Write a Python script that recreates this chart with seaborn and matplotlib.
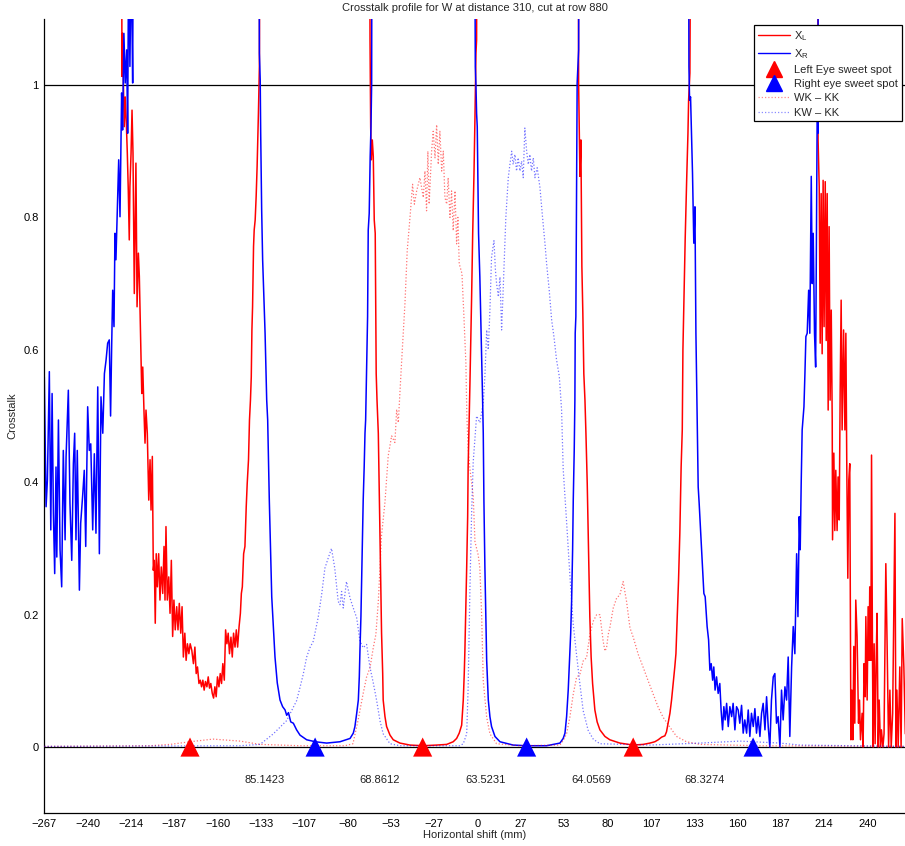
import numpy as np
import matplotlib
matplotlib.use("Agg")
import matplotlib.pyplot as plt
from matplotlib.lines import Line2D
import seaborn as sns

# ---------------- data (x in mm, y = crosstalk) ----------------
XL_POINTS = [  # red solid, X_L
    (-266.7, 1.6), (-219.3, 1.6), (-218.9, 1.013), (-218.5, 1.078), (-218.1, 1.013), (-217.5, 0.937),
    (-216.9, 0.982), (-216.2, 0.942), (-215.6, 0.897), (-215.0, 0.841), (-214.4, 0.766), (-214.0, 0.846),
    (-213.3, 0.897), (-212.7, 0.962), (-212.1, 0.897), (-211.3, 0.685), (-210.7, 0.806), (-210.3, 0.882),
    (-209.6, 0.665), (-208.8, 0.746), (-208.2, 0.711), (-207.3, 0.605), (-206.7, 0.534), (-206.1, 0.574),
    (-205.3, 0.504), (-204.7, 0.459), (-204.1, 0.509), (-203.3, 0.474), (-202.4, 0.373), (-201.6, 0.434),
    (-201.0, 0.358), (-200.2, 0.439), (-199.6, 0.267), (-199.0, 0.282), (-198.4, 0.187), (-197.8, 0.292),
    (-197.1, 0.242), (-196.3, 0.292), (-195.5, 0.222), (-194.7, 0.272), (-193.8, 0.232), (-193.0, 0.303),
    (-192.4, 0.222), (-191.8, 0.333), (-191.0, 0.222), (-190.1, 0.257), (-189.3, 0.202), (-188.5, 0.282),
    (-187.7, 0.167), (-186.9, 0.222), (-186.1, 0.177), (-185.2, 0.212), (-184.4, 0.177), (-183.6, 0.217),
    (-182.7, 0.172), (-181.9, 0.212), (-181.1, 0.136), (-180.2, 0.172), (-179.4, 0.131), (-178.6, 0.156),
    (-177.7, 0.141), (-176.9, 0.156), (-175.9, 0.146), (-174.9, 0.126), (-174.0, 0.151), (-173.2, 0.111),
    (-172.4, 0.121), (-171.5, 0.096), (-170.7, 0.101), (-169.9, 0.091), (-169.1, 0.101), (-168.3, 0.086),
    (-167.5, 0.099), (-166.6, 0.091), (-165.8, 0.106), (-165.0, 0.089), (-164.2, 0.096), (-163.3, 0.081),
    (-162.5, 0.074), (-161.7, 0.091), (-160.9, 0.076), (-160.1, 0.106), (-159.2, 0.091), (-158.4, 0.111),
    (-157.6, 0.096), (-156.8, 0.126), (-155.9, 0.101), (-155.1, 0.177), (-154.3, 0.156), (-153.5, 0.172),
    (-152.7, 0.141), (-151.8, 0.166), (-151.0, 0.136), (-150.2, 0.172), (-149.3, 0.151), (-148.5, 0.177),
    (-147.7, 0.151), (-146.8, 0.182), (-146.0, 0.202), (-145.4, 0.232), (-144.8, 0.242), (-144.0, 0.292),
    (-143.2, 0.303), (-142.4, 0.363), (-141.8, 0.398), (-141.0, 0.434), (-140.4, 0.494), (-139.8, 0.524),
    (-139.3, 0.559), (-138.9, 0.630), (-138.5, 0.665), (-137.9, 0.756), (-137.5, 0.781), (-136.9, 0.796),
    (-136.3, 0.831), (-135.7, 0.877), (-134.9, 0.957), (-134.3, 1.028), (-133.7, 1.6),
    (-66.7, 1.6), (-66.2, 1.068), (-65.8, 0.937), (-65.4, 0.887), (-64.8, 0.917), (-64.2, 0.892),
    (-63.6, 0.796), (-63.0, 0.776), (-62.4, 0.564), (-61.9, 0.524), (-61.1, 0.474), (-60.1, 0.323),
    (-59.5, 0.242), (-59.1, 0.172), (-58.4, 0.111), (-58.1, 0.071), (-57.0, 0.046), (-56.0, 0.031),
    (-53.9, 0.018), (-51.9, 0.011), (-47.8, 0.006), (-41.6, 0.003), (-33.4, 0.002), (-25.2, 0.003),
    (-19.0, 0.004), (-15.0, 0.008), (-12.9, 0.013), (-11.3, 0.021), (-9.8, 0.033), (-8.8, 0.071),
    (-8.2, 0.111), (-7.8, 0.146), (-7.2, 0.212), (-6.7, 0.272), (-6.1, 0.348), (-5.8, 0.423),
    (-5.1, 0.499), (-4.7, 0.549), (-4.1, 0.625), (-3.7, 0.675), (-3.0, 0.776), (-2.2, 0.867),
    (-1.6, 0.952), (-1.0, 1.048), (-0.6, 1.068), (0.0, 1.6),
    (61.8, 1.6), (62.2, 1.003), (62.6, 0.927), (63.0, 0.862), (63.6, 0.917), (64.2, 0.726),
    (64.8, 0.655), (65.4, 0.564), (66.1, 0.524), (66.7, 0.474), (67.5, 0.398), (68.1, 0.323),
    (68.7, 0.247), (69.1, 0.197), (69.9, 0.136), (70.8, 0.096), (72.2, 0.056), (73.6, 0.038),
    (75.3, 0.026), (78.4, 0.016), (81.4, 0.011), (87.6, 0.006), (95.8, 0.003), (101.9, 0.004),
    (106.1, 0.006), (109.1, 0.008), (111.2, 0.011), (113.3, 0.015), (115.3, 0.017), (116.3, 0.023),
    (117.3, 0.036), (118.4, 0.051), (119.4, 0.071), (120.4, 0.096), (121.4, 0.121), (122.1, 0.141),
    (122.9, 0.197), (123.7, 0.252), (124.5, 0.323), (125.3, 0.423), (126.0, 0.479), (126.4, 0.600),
    (127.0, 0.672), (127.8, 0.768), (128.7, 0.856), (129.5, 0.927), (129.9, 0.977), (130.7, 1.018),
    (131.7, 1.6),
    (209.3, 1.6), (209.6, 0.917), (210.3, 0.846), (210.9, 0.610), (211.5, 0.836), (212.1, 0.594),
    (212.7, 0.856), (213.3, 0.635), (214.0, 0.854), (214.6, 0.614), (215.2, 0.836), (215.8, 0.509),
    (216.4, 0.786), (217.0, 0.524), (217.7, 0.660), (218.3, 0.494), (218.5, 0.313), (219.3, 0.444),
    (219.9, 0.327), (220.5, 0.418), (221.3, 0.327), (221.9, 0.408), (222.6, 0.343), (223.2, 0.539),
    (223.8, 0.675), (224.4, 0.479), (225.3, 0.630), (226.1, 0.479), (226.7, 0.625), (227.3, 0.413),
    (227.9, 0.255), (228.5, 0.403), (229.1, 0.428), (229.8, 0.011), (230.4, 0.086), (231.0, 0.011),
    (231.6, 0.152), (232.2, 0.036), (232.8, 0.222), (233.6, 0.167), (234.5, 0.036), (235.1, 0.071),
    (235.7, 0.011), (236.7, 0.051), (237.3, 0.0), (237.9, 0.126), (238.6, 0.076), (239.0, 0.197),
    (239.8, 0.071), (240.4, 0.212), (241.0, 0.131), (241.4, 0.242), (242.1, 0.131), (242.5, 0.441),
    (243.1, 0.131), (243.5, 0.0), (244.1, 0.156), (244.7, 0.005), (245.3, 0.121), (245.9, 0.202),
    (246.6, 0.0), (247.2, 0.071), (248.0, 0.0), (248.6, 0.026), (249.5, 0.0), (250.2, 0.020),
    (251.3, 0.277), (252.1, 0.152), (253.0, 0.0), (253.8, 0.086), (254.6, 0.0), (255.5, 0.051),
    (256.9, 0.353), (257.5, 0.0), (258.1, 0.086), (258.9, 0.0), (259.9, 0.121), (260.7, 0.0),
    (261.4, 0.194), (262.4, 0.121), (263.3, 0.02),
]

XR_POINTS = [  # blue solid, X_R
    (-266.7, 0.559), (-265.6, 0.363), (-264.8, 0.403), (-263.6, 0.567), (-262.7, 0.328), (-261.9, 0.534),
    (-261.1, 0.353), (-260.3, 0.262), (-259.5, 0.423), (-259.0, 0.287), (-258.0, 0.494), (-257.0, 0.298),
    (-256.0, 0.242), (-255.0, 0.448), (-253.9, 0.313), (-253.3, 0.438), (-251.9, 0.539), (-250.9, 0.368),
    (-249.8, 0.282), (-248.8, 0.428), (-248.0, 0.474), (-247.2, 0.313), (-246.4, 0.448), (-245.1, 0.237),
    (-244.3, 0.338), (-243.0, 0.383), (-242.1, 0.418), (-241.2, 0.303), (-240.0, 0.514), (-239.0, 0.448),
    (-238.1, 0.458), (-236.9, 0.328), (-235.9, 0.443), (-234.9, 0.323), (-233.8, 0.544), (-232.8, 0.292),
    (-231.8, 0.529), (-230.7, 0.474), (-229.7, 0.564), (-228.7, 0.584), (-227.7, 0.610), (-226.7, 0.615),
    (-225.9, 0.50), (-225.2, 0.610), (-224.6, 0.690), (-223.8, 0.635), (-223.2, 0.776), (-222.6, 0.736),
    (-221.8, 0.806), (-220.9, 0.887), (-220.1, 0.801), (-219.1, 0.988), (-218.5, 0.932), (-217.7, 1.078),
    (-216.9, 1.003), (-216.0, 1.053), (-215.4, 0.927), (-214.8, 1.2), (-214.0, 1.028), (-213.2, 1.2),
    (-212.3, 1.003), (-211.5, 1.6),
    (-134.9, 1.6), (-134.3, 1.048), (-133.8, 1.008), (-133.5, 0.927), (-132.9, 0.811), (-132.3, 0.736),
    (-130.8, 0.625), (-129.8, 0.524), (-129.2, 0.494), (-128.2, 0.373), (-126.7, 0.227), (-125.7, 0.182),
    (-124.7, 0.136), (-123.3, 0.097), (-121.6, 0.071), (-120.0, 0.061), (-118.5, 0.056), (-117.5, 0.048),
    (-116.4, 0.052), (-115.0, 0.038), (-113.4, 0.036), (-111.4, 0.026), (-109.3, 0.018), (-105.2, 0.011),
    (-99.9, 0.008), (-92.9, 0.006), (-84.7, 0.008), (-78.5, 0.013), (-76.5, 0.021), (-75.5, 0.031),
    (-74.4, 0.051), (-73.4, 0.071), (-72.8, 0.106), (-72.4, 0.146), (-71.8, 0.197), (-71.2, 0.272),
    (-70.4, 0.373), (-69.8, 0.423), (-69.3, 0.474), (-68.9, 0.494), (-68.3, 0.574), (-67.7, 0.650),
    (-67.3, 0.781), (-66.7, 0.806), (-66.1, 0.892), (-65.6, 0.937), (-65.2, 1.003), (-64.8, 1.6),
    (-2.2, 1.6), (-1.4, 1.028), (-1.0, 1.0), (-0.6, 0.957), (-0.2, 0.937), (0.6, 0.776),
    (1.4, 0.710), (2.2, 0.625), (3.1, 0.524), (3.5, 0.474), (3.9, 0.373), (4.5, 0.272),
    (5.1, 0.197), (5.6, 0.131), (6.6, 0.071), (7.6, 0.046), (8.6, 0.031), (10.7, 0.016),
    (13.8, 0.008), (21.9, 0.003), (30.2, 0.002), (42.5, 0.002), (50.7, 0.006), (52.7, 0.013),
    (53.8, 0.021), (54.8, 0.046), (55.8, 0.086), (56.4, 0.121), (57.3, 0.171), (57.9, 0.222),
    (58.5, 0.298), (58.9, 0.373), (59.5, 0.449), (59.9, 0.524), (60.1, 0.625), (60.5, 0.650),
    (61.0, 0.867), (61.3, 1.003), (62.2, 1.053), (62.6, 1.6),
    (129.6, 1.6), (130.1, 1.028), (130.5, 0.977), (131.1, 0.982), (131.7, 0.922), (132.3, 0.867),
    (133.1, 0.761), (133.8, 0.816), (134.4, 0.625), (135.2, 0.494), (135.8, 0.393), (136.4, 0.368),
    (137.9, 0.298), (139.3, 0.232), (140.1, 0.227), (141.3, 0.182), (142.2, 0.162), (143.0, 0.116),
    (143.8, 0.126), (144.7, 0.101), (145.4, 0.121), (146.2, 0.086), (147.1, 0.106), (148.1, 0.081),
    (149.1, 0.096), (149.9, 0.056), (150.8, 0.026), (151.6, 0.061), (152.4, 0.041), (153.3, 0.066),
    (154.3, 0.031), (155.3, 0.061), (156.4, 0.046), (157.3, 0.066), (158.4, 0.026), (159.4, 0.061),
    (160.4, 0.056), (161.4, 0.036), (162.5, 0.063), (163.5, 0.021), (164.5, 0.041), (165.6, 0.021),
    (166.6, 0.056), (167.6, 0.016), (168.6, 0.051), (169.7, 0.031), (170.7, 0.058), (171.7, 0.021),
    (172.7, 0.046), (173.8, 0.016), (174.8, 0.051), (175.8, 0.066), (176.9, 0.026), (177.9, 0.076),
    (178.9, 0.031), (179.9, 0.0), (180.9, 0.071), (182.0, 0.106), (183.0, 0.111), (184.0, 0.036),
    (185.0, 0.046), (186.1, 0.0), (187.1, 0.086), (188.1, 0.041), (189.2, 0.091), (190.2, 0.071),
    (191.2, 0.136), (192.2, 0.016), (193.3, 0.121), (194.3, 0.182), (195.3, 0.141), (196.4, 0.292),
    (197.2, 0.197), (198.0, 0.348), (198.6, 0.298), (199.2, 0.398), (199.8, 0.479), (200.9, 0.514),
    (201.5, 0.564), (202.1, 0.620), (202.9, 0.625), (203.8, 0.690), (204.5, 0.625), (205.4, 0.862),
    (206.0, 0.700), (206.6, 0.776), (207.4, 0.625), (208.1, 0.574), (208.7, 0.826), (209.1, 0.977),
    (209.5, 0.927), (209.9, 1.6), (263.3, 1.6),
]

WK_POINTS = [  # red dotted, WK - KK
    (-266.7, 0.001), (-201.6, 0.002), (-189.3, 0.004), (-177.0, 0.008), (-162.9, 0.012), (-146.2, 0.009),
    (-133.9, 0.004), (-109.3, 0.002), (-81.6, 0.002), (-76.7, 0.005), (-73.6, 0.04), (-70.5, 0.08),
    (-68.3, 0.106), (-66.2, 0.12), (-64.2, 0.15), (-62.6, 0.17), (-61.1, 0.22), (-59.1, 0.32),
    (-57.0, 0.37), (-55.0, 0.44), (-52.9, 0.47), (-50.9, 0.46), (-49.8, 0.51), (-48.8, 0.49),
    (-46.8, 0.58), (-44.7, 0.67), (-43.3, 0.75), (-41.6, 0.80), (-40.0, 0.85), (-38.9, 0.82),
    (-37.5, 0.84), (-35.5, 0.86), (-33.4, 0.83), (-32.4, 0.87), (-31.4, 0.81), (-30.6, 0.90),
    (-29.8, 0.82), (-28.3, 0.90), (-27.3, 0.93), (-26.2, 0.89), (-25.2, 0.94), (-24.2, 0.88),
    (-23.2, 0.93), (-22.1, 0.87), (-21.1, 0.90), (-20.1, 0.83), (-19.0, 0.82), (-18.1, 0.86),
    (-17.0, 0.80), (-16.0, 0.84), (-15.0, 0.78), (-13.9, 0.84), (-12.9, 0.76), (-12.1, 0.80),
    (-11.3, 0.73), (-9.6, 0.715), (-8.4, 0.65), (-7.2, 0.58), (-6.6, 0.50), (-5.8, 0.45),
    (-4.7, 0.42), (-3.7, 0.40), (-2.7, 0.38), (-1.6, 0.31), (0.4, 0.29), (1.4, 0.27),
    (2.5, 0.20), (3.5, 0.10), (5.6, 0.045), (7.6, 0.02), (11.7, 0.005), (26.1, 0.002),
    (50.7, 0.003), (52.7, 0.01), (54.8, 0.02), (56.8, 0.045), (58.9, 0.08), (60.9, 0.105),
    (63.0, 0.11), (65.0, 0.13), (67.1, 0.135), (69.1, 0.17), (71.2, 0.19), (73.3, 0.20),
    (75.3, 0.20), (77.3, 0.16), (78.4, 0.145), (79.4, 0.15), (80.4, 0.17), (81.4, 0.18),
    (83.5, 0.21), (85.6, 0.225), (87.6, 0.23), (89.6, 0.25), (91.7, 0.22), (93.8, 0.18),
    (95.8, 0.166), (98.9, 0.14), (102.0, 0.12), (105.0, 0.10), (108.1, 0.08), (111.2, 0.06),
    (114.2, 0.045), (118.4, 0.03), (122.5, 0.016), (128.6, 0.008), (136.8, 0.004), (173.8, 0.002),
    (263.0, 0.001),
]

KW_POINTS = [  # blue dotted, KW - KK
    (-266.7, 0.001), (-146.2, 0.002), (-133.9, 0.004), (-125.7, 0.02), (-117.5, 0.04), (-111.4, 0.07),
    (-109.3, 0.09), (-107.3, 0.11), (-105.2, 0.136), (-103.2, 0.15), (-101.1, 0.16), (-98.1, 0.196),
    (-96.0, 0.23), (-94.0, 0.27), (-92.0, 0.285), (-89.9, 0.30), (-87.9, 0.27), (-85.8, 0.22),
    (-84.7, 0.215), (-83.7, 0.235), (-82.7, 0.21), (-80.7, 0.25), (-79.8, 0.24), (-78.5, 0.225),
    (-76.5, 0.21), (-74.4, 0.195), (-72.4, 0.16), (-70.4, 0.15), (-68.3, 0.155), (-66.2, 0.12),
    (-64.2, 0.097), (-62.1, 0.07), (-60.1, 0.04), (-58.1, 0.02), (-53.9, 0.005), (-47.8, 0.002),
    (-10.9, 0.002), (-8.8, 0.005), (-6.7, 0.02), (-5.8, 0.09), (-4.7, 0.24), (-3.7, 0.35),
    (-2.7, 0.43), (-0.6, 0.50), (1.4, 0.49), (3.5, 0.52), (4.5, 0.56), (5.6, 0.63),
    (6.6, 0.60), (7.6, 0.66), (8.6, 0.74), (10.1, 0.765), (11.0, 0.72), (11.7, 0.70),
    (12.8, 0.68), (13.8, 0.71), (14.8, 0.63), (15.6, 0.68), (16.2, 0.72), (17.4, 0.80),
    (18.9, 0.86), (19.9, 0.88), (21.0, 0.90), (21.9, 0.88), (23.0, 0.895), (24.0, 0.87),
    (25.0, 0.89), (26.1, 0.87), (27.1, 0.885), (28.1, 0.86), (29.1, 0.935), (30.2, 0.90),
    (31.2, 0.88), (32.2, 0.895), (33.2, 0.87), (34.3, 0.89), (35.3, 0.86), (36.7, 0.875),
    (38.4, 0.845), (40.0, 0.80), (41.5, 0.76), (42.5, 0.73), (44.1, 0.69), (45.6, 0.645),
    (47.0, 0.62), (48.6, 0.585), (50.3, 0.56), (51.7, 0.51), (52.7, 0.42), (54.8, 0.34),
    (56.8, 0.26), (58.9, 0.185), (60.9, 0.14), (63.0, 0.095), (65.0, 0.055), (68.1, 0.025),
    (71.2, 0.012), (75.3, 0.005), (106.1, 0.003), (136.8, 0.006), (161.4, 0.009), (186.1, 0.006),
    (198.4, 0.003), (263.0, 0.001),
]

left_eye_spots = [-177.0, -33.8, 95.8]
right_eye_spots = [-100.0, 30.2, 169.6]
separation_labels = ["85.1423", "68.8612", "63.5231", "64.0569", "68.3274"]
separation_label_x = [-131.3, -60.1, 5.0, 70.2, 139.9]
x_tick_labels = [-267, -240, -214, -187, -160, -133, -107, -80, -53, -27,
                 0, 27, 53, 80, 107, 133, 160, 187, 214, 240]
y_tick_values = [0, 0.2, 0.4, 0.6, 0.8, 1]
y_tick_labels = ["0", "0.2", "0.4", "0.6", "0.8", "1"]

# ---------------- figure ----------------
sns.set_style("white")
plt.rcParams["font.family"] = ["Liberation Sans", "DejaVu Sans"]
plt.rcParams["mathtext.fontset"] = "custom"
plt.rcParams["mathtext.rm"] = "Liberation Sans"
plt.rcParams["axes.unicode_minus"] = True

fig = plt.figure(figsize=(9.05, 8.46), dpi=100)
ax = fig.add_axes([0.049, 0.0387, 0.951, 0.9391])

ax.axhline(1, color="k", lw=0.9, zorder=1)
ax.axhline(0, color="k", lw=0.9, zorder=1)

def unzip(points):
    xs, ys = zip(*points)
    return np.array(xs), np.array(ys)

xl_x, xl_y = unzip(XL_POINTS)
xr_x, xr_y = unzip(XR_POINTS)
wk_x, wk_y = unzip(WK_POINTS)
kw_x, kw_y = unzip(KW_POINTS)

DOT = (0, (1, 1.6))

sns.lineplot(x=xl_x, y=xl_y, sort=False, estimator=None, color="#ff0000", linewidth=1.1, ax=ax, zorder=2)
sns.lineplot(x=xr_x, y=xr_y, sort=False, estimator=None, color="#0000ff", linewidth=1.1, ax=ax, zorder=2)
sns.scatterplot(x=left_eye_spots, y=[0] * len(left_eye_spots), marker="^", s=190, color="#ff0000",
                edgecolor="none", ax=ax, zorder=4)
sns.scatterplot(x=right_eye_spots, y=[0] * len(right_eye_spots), marker="^", s=190, color="#0000ff",
                edgecolor="none", ax=ax, zorder=4)
sns.lineplot(x=wk_x, y=wk_y, sort=False, estimator=None, color="#ff0000", linewidth=0.9,
             ax=ax, zorder=3)
ax.lines[-1].set_linestyle(DOT)
ax.lines[-1].set_alpha(0.55)
sns.lineplot(x=kw_x, y=kw_y, sort=False, estimator=None, color="#0000ff", linewidth=0.9,
             ax=ax, zorder=3)
ax.lines[-1].set_linestyle(DOT)
ax.lines[-1].set_alpha(0.55)

for lx, lab in zip(separation_label_x, separation_labels):
    ax.text(lx, -0.05, lab, ha="center", va="center", fontsize=8, color="#222222")

ax.set_xlim(-266.67, 263.1)
ax.set_ylim(-0.1, 1.1)
ax.set_xticks(np.arange(-10, 10) * 80.0 / 3.0)
ax.set_xticklabels([str(v).replace("-", "\u2212") for v in x_tick_labels])
ax.set_yticks(y_tick_values)
ax.set_yticklabels(y_tick_labels)
ax.tick_params(direction="in", length=7, width=0.8, labelsize=8, colors="k", pad=4)
for side in ["top", "right"]:
    ax.spines[side].set_visible(False)
for side in ["left", "bottom"]:
    ax.spines[side].set_color("k")
    ax.spines[side].set_linewidth(0.9)
ax.set_xlabel("Horizontal shift (mm)", fontsize=8, labelpad=1)
ax.set_ylabel("Crosstalk", fontsize=8, labelpad=4)
ax.set_title("Crosstalk profile for W at distance 310, cut at row 880", fontsize=8, pad=5.5)
ax.grid(False)

handles = [
    Line2D([], [], color="#ff0000", lw=1.0),
    Line2D([], [], color="#0000ff", lw=1.0),
    Line2D([], [], color="#ff0000", marker="^", ms=12, ls="none"),
    Line2D([], [], color="#0000ff", marker="^", ms=12, ls="none"),
    Line2D([], [], color="#ff0000", lw=0.9, ls=DOT, alpha=0.45),
    Line2D([], [], color="#0000ff", lw=0.9, ls=DOT, alpha=0.45),
]
labels = ["X$_\\mathrm{L}$", "X$_\\mathrm{R}$", "Left Eye sweet spot", "Right eye sweet spot",
          "WK \u2013 KK", "KW \u2013 KK"]
leg = fig.legend(handles, labels, loc="upper right", bbox_to_anchor=(902 / 905, (846 - 25) / 846),
                 bbox_transform=fig.transFigure, fontsize=8, frameon=True, fancybox=False,
                 framealpha=1, edgecolor="k", handlelength=2.9, handletextpad=0.4,
                 labelspacing=0.38, borderpad=0.35, borderaxespad=0)
leg.get_frame().set_linewidth(0.9)

fig.savefig("out.png", dpi=100)
